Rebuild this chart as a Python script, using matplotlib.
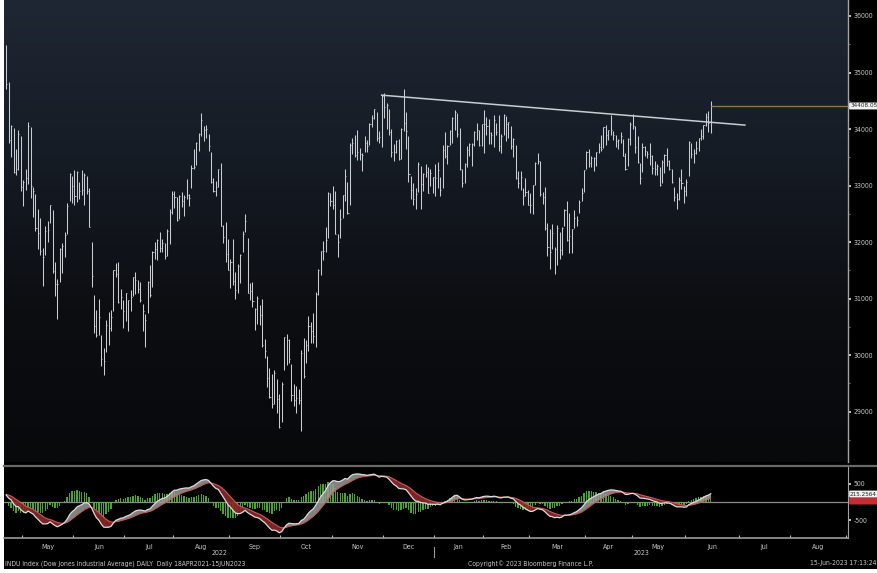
import numpy as np
import pandas as pd
import matplotlib
matplotlib.use("Agg")
import matplotlib.pyplot as plt
from matplotlib import font_manager
from matplotlib.lines import Line2D
from matplotlib.patches import Rectangle
from matplotlib.ticker import FixedLocator, MultipleLocator
from matplotlib.colors import LinearSegmentedColormap
import matplotlib.transforms as mtransforms

# ---------------- data ----------------
# closes before the visible window (indicator warm-up only)
warmup_close = [33294, 33891, 33795, 33615, 32818, 32633, 33286, 33174, 32944, 32945,
                33544, 34063, 34481, 34755, 34553, 34808, 34358, 34707, 34862, 34955,
                35294, 35228, 34678, 34818, 34922, 34641, 34496, 34583, 34721, 34308,
                34220, 34564, 34451, 34412, 34911, 35161]

close = [
    # Apr 2022
    34793, 33811, 34049, 33240, 33302, 33916, 32977,
    # May 2022
    33061, 33128, 34061, 32998, 32899, 32246, 32161, 31834, 31730, 32197, 32223, 32655,
    31490, 31253, 31262, 31880, 31929, 32120, 32637, 33213, 32990,
    # Jun 2022
    32813, 33248, 32900, 32916, 33180, 32910, 32273, 31393, 30517, 30365, 30669, 29927,
    29889, 30530, 30483, 30677, 31500, 31439, 30947, 31029, 30775,
    # Jul 2022
    31097, 30968, 31037, 31385, 31338, 31174, 30982, 30773, 30630, 31288, 31073, 31827,
    31875, 32036, 31899, 31990, 31762, 32198, 32530, 32845,
    # Aug 2022
    32798, 32397, 32813, 32727, 32803, 32833, 32775, 33309, 33337, 33761, 33913, 34152,
    33981, 33999, 33707, 33064, 32910, 32970, 33292, 32283, 32099, 31791, 31510,
    # Sep 2022
    31656, 31318, 31145, 31581, 31775, 32152, 32381, 31105, 31135, 30962, 30822, 31020,
    30706, 30184, 30077, 29590, 29260, 29135, 29684, 29226, 28726,
    # Oct 2022
    29491, 30317, 30274, 29927, 29297, 29203, 29240, 29211, 30039, 29635, 30186, 30524,
    30424, 30334, 31083, 31500, 31837, 31839, 32034, 32861, 32733,
    # Nov 2022
    32654, 32148, 32001, 32403, 32827, 33161, 32514, 33716, 33748, 33537, 33593, 33554,
    33547, 33746, 33700, 34098, 34195, 34347, 33850, 33853, 34590,
    # Dec 2022
    34395, 34430, 33947, 33597, 33598, 33781, 33477, 34005, 34109, 33966, 33203, 32920,
    32757, 32850, 33377, 33027, 33204, 33241, 32876, 33221, 33147,
    # Jan 2023
    33136, 33270, 32930, 33631, 33518, 33704, 33974, 34190, 34303, 33910, 33297, 33045,
    33376, 33630, 33734, 33744, 33949, 33978, 33717, 34086,
    # Feb 2023
    34093, 34054, 33926, 33891, 34156, 33949, 33699, 33869, 34246, 34089, 34128, 33697,
    33827, 33130, 33045, 33154, 32817, 32889, 32657,
    # Mar 2023
    32662, 33004, 33391, 33432, 32856, 32798, 32254, 31910, 31820, 32155, 31875, 32247,
    31862, 32245, 32561, 32031, 32106, 32238, 32433, 32395, 32718, 32860, 33274,
    # Apr 2023
    33601, 33403, 33483, 33486, 33587, 33685, 33647, 34030, 33886, 33987, 33977, 33897,
    33787, 33809, 33876, 33531, 33302, 33827, 34098,
    # May 2023
    34051, 33684, 33414, 33128, 33674, 33619, 33562, 33531, 33309, 33301, 33349, 33012,
    33420, 33535, 33427, 33286, 33056, 32800, 32765, 33093, 33043, 32908,
    # Jun 2023
    33062, 33763, 33563, 33573, 33665, 33834, 33877, 34066, 34212, 34109, 34408,
]

high = [
    35492, 34830, 34070, 34020, 33650, 33980, 33880,
    33100, 33300, 34120, 34030, 32970, 32850, 32580, 32420, 31900, 32280, 32380, 32660,
    32560, 31640, 31350, 31900, 31990, 32180, 32700, 33220, 33170,
    33280, 33260, 33060, 33280, 33220, 33170, 32960, 32000, 31060, 30800, 31000, 30360,
    30130, 30620, 30760, 30800, 31510, 31630, 31650, 31170, 30980,
    31100, 30980, 31160, 31390, 31480, 31330, 31300, 30910, 30730, 31320, 31600, 31840,
    32000, 32050, 32180, 32060, 31990, 32230, 32580, 32910,
    32910, 32800, 32840, 32880, 32830, 33120, 32850, 33360, 33640, 33770, 33930, 34280,
    34060, 34070, 33910, 33600, 33130, 33080, 33300, 33400, 32300, 32350, 32060,
    31700, 32050, 31480, 31620, 31790, 32200, 32500, 32080, 31270, 31290, 30840, 31050,
    30880, 31000, 30280, 29990, 29780, 29660, 29740, 29580, 29310,
    29530, 30330, 30380, 30290, 29840, 29490, 29460, 29410, 30100, 30300, 30260, 30690,
    30580, 30750, 31120, 31520, 31840, 32020, 32270, 32890, 32870,
    33000, 32910, 32150, 32580, 32840, 33300, 33070, 33760, 33840, 33900, 33990, 33660,
    33570, 33880, 33800, 34110, 34240, 34360, 34300, 33970, 34600,
    34630, 34460, 34360, 34000, 33730, 33810, 33830, 34010, 34712, 34300, 33880, 33170,
    33050, 32960, 33420, 33350, 33230, 33390, 33320, 33300, 33160,
    33390, 33410, 33150, 33720, 33950, 33710, 33980, 34220, 34340, 34290, 34010, 33290,
    33400, 33700, 33750, 33760, 33960, 34100, 33980, 34090,
    34330, 34210, 34180, 33950, 34240, 34110, 34250, 33910, 34260, 34230, 34130, 34060,
    33850, 33720, 33250, 33260, 32960, 33130, 32930,
    32870, 33010, 33410, 33570, 33430, 32880, 32980, 32340, 32230, 32320, 31920, 32300,
    32180, 32260, 32590, 32720, 32520, 32240, 32570, 32470, 32740, 32960, 33280,
    33620, 33640, 33530, 33510, 33600, 33750, 33900, 34040, 34080, 33990, 34250, 33960,
    33900, 33830, 33950, 33830, 33580, 33850, 34120,
    34260, 34050, 33880, 33400, 33760, 33700, 33610, 33750, 33540, 33440, 33380, 33330,
    33450, 33560, 33660, 33450, 33290, 32980, 32860, 33150, 33290, 32990,
    33110, 33790, 33750, 33640, 33780, 33850, 34000, 34070, 34290, 34320, 34490,
]

low = [
    34700, 33760, 33510, 33220, 33190, 33270, 32910,
    32630, 32920, 33020, 32780, 32450, 32200, 31880, 31780, 31230, 31770, 32000, 32330,
    31460, 31050, 30640, 31300, 31460, 31740, 32140, 32730, 32700,
    32650, 32710, 32770, 32830, 32650, 32850, 32270, 31210, 30390, 30320, 30360, 29810,
    29650, 30050, 30180, 30430, 30790, 31380, 30930, 30820, 30480,
    30600, 30420, 30790, 31050, 31090, 31100, 30940, 30420, 30140, 30740, 31030, 31200,
    31700, 31680, 31830, 31830, 31710, 31760, 31960, 32500,
    32600, 32380, 32410, 32620, 32470, 32760, 32640, 32950, 33300, 33370, 33620, 33880,
    33780, 33850, 33620, 33050, 32880, 32820, 32970, 32280, 31980, 31640, 31500,
    31190, 31250, 30990, 31100, 31270, 31820, 32180, 31100, 30980, 30850, 30450, 30560,
    30530, 30150, 29950, 29440, 29240, 29060, 29140, 28970, 28720,
    28810, 29740, 29820, 29870, 29190, 29100, 28980, 29140, 28660, 29600, 29860, 30070,
    30210, 30220, 30150, 31070, 31420, 31680, 31830, 32080, 32640,
    32580, 32140, 31730, 32070, 32420, 32730, 32490, 32660, 33550, 33500, 33450, 33460,
    33260, 33600, 33590, 33720, 34040, 34180, 33790, 33760, 33690,
    34200, 34000, 33890, 33510, 33440, 33580, 33460, 33470, 33970, 33650, 33060, 32760,
    32660, 32580, 32880, 32580, 32910, 33150, 32870, 33000, 32860,
    32810, 32960, 32820, 32960, 33480, 33380, 33710, 33760, 33990, 33860, 33270, 32980,
    33050, 33330, 33520, 33350, 33700, 33800, 33700, 33700,
    33580, 33900, 33740, 33730, 33690, 33900, 33620, 33580, 33890, 33780, 33850, 33640,
    33510, 33110, 32960, 32920, 32650, 32820, 32650,
    32510, 32500, 33010, 33380, 32820, 32680, 32220, 31760, 31530, 31870, 31430, 31600,
    31710, 31770, 32290, 32020, 31810, 31810, 32250, 32280, 32510, 32720, 32880,
    33300, 33330, 33330, 33260, 33340, 33570, 33620, 33670, 33720, 33800, 33900, 33800,
    33680, 33650, 33760, 33520, 33270, 33340, 33720,
    34000, 33570, 33400, 33020, 33240, 33530, 33480, 33370, 33210, 33180, 33180, 32990,
    33040, 33230, 33350, 33270, 33050, 32730, 32580, 32750, 32940, 32700,
    32820, 33170, 33490, 33400, 33560, 33610, 33810, 33830, 34060, 33950, 33930,
]

market_holidays = ["2022-05-30", "2022-06-20", "2022-07-04", "2022-09-05", "2022-11-24",
                   "2022-12-26", "2023-01-02", "2023-01-16", "2023-02-20", "2023-04-07",
                   "2023-05-29"]
first_day, last_day, axis_end = "2022-04-21", "2023-06-15", "2023-09-15"

main_yticks = [29000, 30000, 31000, 32000, 33000, 34000, 35000, 36000]
macd_yticks = [-500, 500]
last_price = 34408.05
last_macd = 215.2564
trend_dates = ["2022-11-30", "2023-07-05"]
trend_values = [34600, 34070]

footer_left = "INDU Index (Dow Jones Industrial Average) DAILY  Daily 18APR2021-15JUN2023"
footer_mid = "Copyright\u00a9 2023 Bloomberg Finance L.P."
footer_right = "15-Jun-2023 17:13:24"

# ---------------- dates / index axis ----------------
hol = set(pd.to_datetime(market_holidays))
hist_dates = [d for d in pd.bdate_range(first_day, last_day) if d not in hol]
n = min(len(hist_dates), len(close), len(high), len(low))
hist_dates = hist_dates[:n]
future_dates = list(pd.bdate_range(pd.Timestamp(last_day) + pd.Timedelta(days=1), axis_end))
all_dates = pd.DatetimeIndex(hist_dates + future_dates)
xi = np.arange(n)
c = np.array(close[:n], float)
h = np.array(high[:n], float)
lo = np.array(low[:n], float)

# MACD (12, 26, 9)
def ema(vals, span):
    a = 2.0 / (span + 1)
    out = [vals[0]]
    for v in vals[1:]:
        out.append(out[-1] + a * (v - out[-1]))
    return np.array(out)

full = np.array(warmup_close + list(c), float)
macd_full = ema(full, 12) - ema(full, 26)
sig_full = ema(macd_full, 9)
macd = macd_full[-n:]
sig = sig_full[-n:]
hist = macd - sig
HIST_SCALE = 1.5   # histogram drawn enlarged, as on the terminal

# ---------------- fonts ----------------
fp_cond = font_manager.FontProperties(family="DejaVu Sans", stretch="condensed")
cond_path = font_manager.findfont(fp_cond, fallback_to_default=True)
if "Condensed" in cond_path:
    FONT = dict(family="DejaVu Sans", stretch="condensed")
    k = 1.0
else:
    FONT = dict(family="DejaVu Sans")
    k = 0.85
FS = 5.0 * k

# ---------------- figure ----------------
W, H = 878, 573
fig = plt.figure(figsize=(W / 100, H / 100), dpi=100, facecolor="white")
fx = lambda px: px / W
fy = lambda py: 1 - py / H

fig.add_artist(Rectangle((fx(4), fy(569)), 1 - fx(4), fy(0) - fy(569),
                         transform=fig.transFigure, facecolor="black", edgecolor="none", zorder=0))

XMIN, XMAX = -0.9, 345.3
ax = fig.add_axes([fx(4), fy(462), fx(848) - fx(4), fy(0) - fy(462)])
ax2 = fig.add_axes([fx(4), fy(538), fx(848) - fx(4), fy(467) - fy(538)])

# main panel gradient background
grad = np.linspace(0, 1, 256).reshape(-1, 1)
cmap = LinearSegmentedColormap.from_list("bg", ["#1f2734", "#161c25", "#0c0e12", "#08090b"])
ax.imshow(grad, aspect="auto", cmap=cmap, extent=[0, 1, 0, 1], transform=ax.transAxes, zorder=0)

ax.set_xlim(XMIN, XMAX)
ax.set_ylim(28110, 36283)
bar_col = "#c9cdd2"
ax.vlines(xi, lo, h, color=bar_col, lw=0.75, zorder=3)
ax.hlines(c, xi, xi + 0.45, color=bar_col, lw=0.6, zorder=3)

# trend line and last-price line
t_idx = [all_dates.get_loc(pd.Timestamp(d)) for d in trend_dates]
ax.plot(t_idx, trend_values, color="#c9ccd0", lw=1.1, zorder=4)
ax.hlines(last_price, n - 1, XMAX, color="#8f7444", lw=1.0, zorder=4)

for s in ["top", "left", "bottom"]:
    ax.spines[s].set_visible(False)
ax.spines["right"].set_color("#a0a4a8")
ax.spines["right"].set_linewidth(1.0)
ax.set_xticks([])
ax.yaxis.tick_right()
ax.set_yticks(main_yticks)
ax.set_yticklabels([str(v) for v in main_yticks])
ax.yaxis.set_minor_locator(MultipleLocator(500))
ax.tick_params(axis="y", which="major", direction="out", length=2.5, width=1.2,
               color="#e0e0e0", labelcolor="#c8c8c8", labelsize=FS, pad=1.5)
ax.tick_params(axis="y", which="minor", direction="out", length=1.2, width=0.8, color="#666")
for t in ax.get_yticklabels():
    t.set(**FONT)
ax.annotate(f"{last_price:.2f}", xy=(1.0, last_price), xycoords=("axes fraction", "data"),
            xytext=(1.5, 0), textcoords="offset points", va="center", ha="left",
            fontsize=FS * 0.92, color="#202020", **FONT,
            bbox=dict(boxstyle="round,pad=0.15", fc="#f2f2f2", ec="none"), zorder=6,
            annotation_clip=False)

# ---------------- MACD panel ----------------
ax2.set_facecolor("black")
ax2.set_xlim(XMIN, XMAX)
ax2.set_ylim(-973, 946)
ax2.axhline(0, color="#8a8a8a", lw=0.9, zorder=1)
ax2.bar(xi, hist * HIST_SCALE, width=0.55, color="#4cbb30", edgecolor="none", alpha=0.9, zorder=2)
ax2.fill_between(xi, macd, sig, where=macd >= sig, interpolate=True, color="#9a9a9a",
                 alpha=0.85, lw=0, zorder=3)
ax2.fill_between(xi, macd, sig, where=macd < sig, interpolate=True, color="#8a2828",
                 alpha=0.9, lw=0, zorder=3)
ax2.plot(xi, sig, color="#c85a5a", lw=0.8, zorder=4)
ax2.plot(xi, macd, color="#dcdcdc", lw=0.9, zorder=5)

for s in ["top", "left"]:
    ax2.spines[s].set_visible(False)
ax2.spines["right"].set_color("#a0a4a8")
ax2.spines["bottom"].set_color("#9a9a9a")
ax2.spines["bottom"].set_linewidth(1.2)
ax2.yaxis.tick_right()
ax2.set_yticks(macd_yticks)
ax2.set_yticklabels([str(v) for v in macd_yticks])
ax2.tick_params(axis="y", direction="out", length=2.5, width=1.2, color="#e0e0e0",
                labelcolor="#c8c8c8", labelsize=FS, pad=1.5)
for t in ax2.get_yticklabels():
    t.set(**FONT)
ax2.annotate(f"{sig[-1]:.4f}", xy=(1.0, last_macd - 190), xycoords=("axes fraction", "data"),
             xytext=(1.5, 0), textcoords="offset points", va="center", ha="left",
             fontsize=FS * 0.92, color="#c03030", **FONT,
             bbox=dict(boxstyle="round,pad=0.15", fc="#c03030", ec="none"), zorder=5,
             annotation_clip=False)
ax2.annotate(f"{last_macd:.4f}", xy=(1.0, last_macd), xycoords=("axes fraction", "data"),
             xytext=(1.5, 0), textcoords="offset points", va="center", ha="left",
             fontsize=FS * 0.92, color="#202020", **FONT,
             bbox=dict(boxstyle="round,pad=0.15", fc="#f2f2f2", ec="none"), zorder=6,
             annotation_clip=False)

# month ticks and labels (only months that are complete on the axis)
months = pd.Series(np.arange(len(all_dates)), index=all_dates)
groups = months.groupby([all_dates.year, all_dates.month])
bounds, mids, mlabels = [], [], []
for (yy, mm), g in groups:
    first, lastv = g.iloc[0], g.iloc[-1]
    if first > 0:
        bounds.append(first - 0.5)
    if first > 0 and lastv + 0.5 <= XMAX + 3:
        mids.append((first + lastv) / 2)
        mlabels.append(pd.Timestamp(year=yy, month=mm, day=1).strftime("%b"))
bounds = [b for b in bounds if XMIN < b < XMAX]
ax2.xaxis.set_minor_locator(FixedLocator(bounds))
ax2.set_xticks(mids)
ax2.set_xticklabels(mlabels)
ax2.tick_params(axis="x", which="major", length=0, labelsize=FS, labelcolor="#c8c8c8", pad=4)
ax2.tick_params(axis="x", which="minor", direction="in", length=2, width=0.8, color="#bdbdbd")
for t in ax2.get_xticklabels():
    t.set(**FONT)

# year labels + separator
bt = mtransforms.blended_transform_factory(ax2.transData, fig.transFigure)
ny = all_dates.get_loc(pd.Timestamp("2023-01-03")) - 0.5
fig.text((XMIN + ny) / 2, fy(553), "2022", transform=bt, ha="center", va="center",
         fontsize=FS, color="#c8c8c8", **FONT)
fig.text((ny + XMAX) / 2, fy(553), "2023", transform=bt, ha="center", va="center",
         fontsize=FS, color="#c8c8c8", **FONT)
fig.add_artist(Line2D([ny, ny], [fy(547), fy(557)], transform=bt, color="#9a9a9a", lw=0.8))

# separator line between panels
fig.add_artist(Line2D([fx(4), fx(878)], [fy(465.5), fy(465.5)], transform=fig.transFigure,
                      color="#6a6a6a", lw=1.6))

# footer
FFS = 4.9 * (1.0 if k == 1.0 else 0.84)
fig.text(fx(5), fy(563.5), footer_left, ha="left", va="center", fontsize=FFS,
         color="#c8c8c8", **FONT)
fig.text(fx(468), fy(563.5), footer_mid, ha="left", va="center", fontsize=FFS,
         color="#c8c8c8", **FONT)
fig.text(fx(876), fy(563.5), footer_right, ha="right", va="center", fontsize=FFS,
         color="#c8c8c8", **FONT)

fig.savefig("out.png", dpi=100, facecolor=fig.get_facecolor())
